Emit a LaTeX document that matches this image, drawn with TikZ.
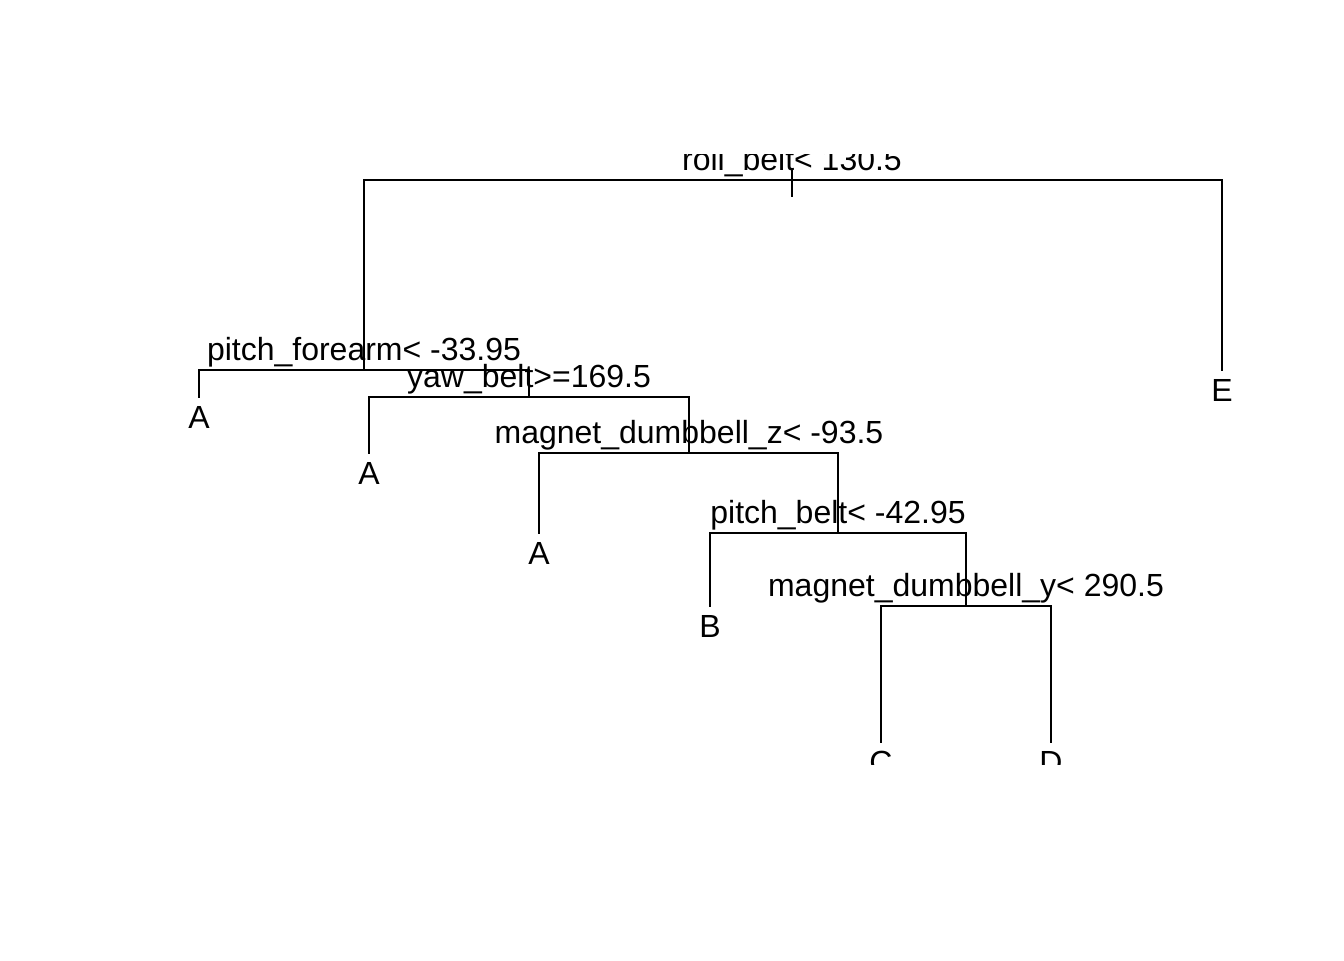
\documentclass[tikz,border=0pt]{standalone}
\usepackage{fontspec}
\setmainfont{Liberation Sans}
\begin{document}
\begin{tikzpicture}[x=0.375pt,y=-0.375pt,
  branch/.style={line width=0.75pt, line cap=rect},
  splitlabel/.style={anchor=base, inner sep=0pt, font=\fontsize{12pt}{14pt}\selectfont},
  leaflabel/.style={anchor=base, inner sep=0pt, font=\fontsize{12pt}{14pt}\selectfont}]
\useasboundingbox (0,0) rectangle (1344,960);
\begin{scope}
\clip (0,154) rectangle (1344,764);
% split points
\coordinate (root) at (792,180);
\coordinate (n1) at (364,370);
\coordinate (n2) at (529,397);
\coordinate (n3) at (689,453);
\coordinate (n4) at (838,533);
\coordinate (n5) at (966,606);
% leaves
\coordinate (lA1) at (199,397);
\coordinate (lA2) at (369,453);
\coordinate (lA3) at (539,533);
\coordinate (lB) at (710,606);
\coordinate (lC) at (881,742);
\coordinate (lD) at (1051,742);
\coordinate (lE) at (1222,370);
\coordinate (rtop) at (792,170);
\coordinate (rbot) at (792,196);
% branches
\draw[branch] (rtop) -- (rbot);
\draw[branch] (n1) |- (root) -| (lE);
\draw[branch] (lA1) |- (n1) -| (n2);
\draw[branch] (lA2) |- (n2) -| (n3);
\draw[branch] (lA3) |- (n3) -| (n4);
\draw[branch] (lB) |- (n4) -| (n5);
\draw[branch] (lC) |- (n5) -| (lD);
% split labels
\node[splitlabel] (t0) at (792,170) {roll\_belt< 130.5};
\node[splitlabel] (t1) at (364,360) {pitch\_forearm< -33.95};
\node[splitlabel] (t2) at (529,387) {yaw\_belt>=169.5};
\node[splitlabel] (t3) at (689,443) {magnet\_dumbbell\_z< -93.5};
\node[splitlabel] (t4) at (838,523) {pitch\_belt< -42.95};
\node[splitlabel] (t5) at (966,596) {magnet\_dumbbell\_y< 290.5};
% leaf labels
\node[leaflabel] (fA1) at (199,428) {A};
\node[leaflabel] (fA2) at (369,484) {A};
\node[leaflabel] (fA3) at (539,564) {A};
\node[leaflabel] (fB) at (710,637) {B};
\node[leaflabel] (fC) at (881,773) {C};
\node[leaflabel] (fD) at (1051,773) {D};
\node[leaflabel] (fE) at (1222,401) {E};
\end{scope}
\end{tikzpicture}
\end{document}
